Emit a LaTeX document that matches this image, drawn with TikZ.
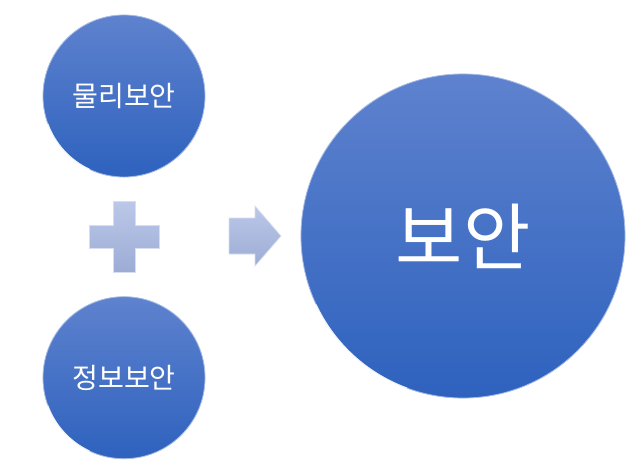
\documentclass[tikz,border=0pt]{standalone}
\usepackage{fontspec}
\newfontfamily\kor{Noto Sans CJK KR}
\usetikzlibrary{positioning,shadings}
\definecolor{circtop}{RGB}{94,130,206}
\definecolor{circbot}{RGB}{46,98,190}
\definecolor{signtop}{RGB}{188,200,233}
\definecolor{signbot}{RGB}{156,172,213}
\tikzset{
	secbox/.style={circle, top color=circtop, bottom color=circbot, draw=circtop!55!white,
		line width=0.6pt, text=white, inner sep=0pt, minimum size=4.05cm,
		font=\kor\fontsize{20}{24}\selectfont},
	signshape/.style={top color=signtop, bottom color=signbot, draw=signtop!60!white, line width=0.5pt},
	edgeglint/.style={white, opacity=0.8, line width=1.2pt}
}

\begin{document}
\begin{tikzpicture}[x=0.025cm, y=-0.025cm]
	\useasboundingbox (0,0) rectangle (640,474);
	\node[secbox] (phys) at (124,96) {물리보안};
	\node[secbox, below=2.97cm of phys] (info) {정보보안};
	\node[secbox, minimum size=8.1cm, font=\kor\fontsize{52}{58}\selectfont] (sec) at (463,236) {보안};
	% edge highlights
	\draw[edgeglint] (phys.200) arc[start angle=200, end angle=245, radius=2.025cm];
	\draw[edgeglint] (info.200) arc[start angle=200, end angle=245, radius=2.025cm];
	\draw[edgeglint] (sec.205) arc[start angle=205, end angle=250, radius=4.05cm];
	% plus sign
	\shade[signshape] (113,201) -- (135,201) -- (135,225) -- (159,225) -- (159,248) -- (135,248)
		-- (135,272) -- (113,272) -- (113,248) -- (89,248) -- (89,225) -- (113,225) -- cycle;
	% arrow
	\shade[signshape] (229,218) -- (255,218) -- (255,206) -- (281,236) -- (255,266) -- (255,254)
		-- (229,254) -- cycle;
\end{tikzpicture}
\end{document}
